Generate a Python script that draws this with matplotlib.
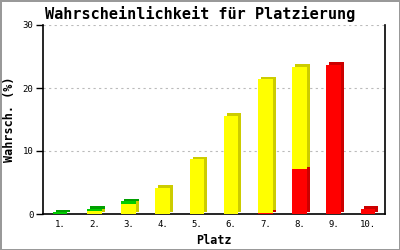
import matplotlib
matplotlib.use("Agg")
import matplotlib.pyplot as plt
import matplotlib.transforms as mtransforms
import numpy as np

platz = ["1.", "2.", "3.", "4.", "5.", "6.", "7.", "8.", "9.", "10."]
rot = [0.0, 0.0, 0.0, 0.0, 0.0, 0.0, 0.2, 7.1, 23.7, 0.8]
gelb = [0.0, 0.4, 1.6, 4.2, 8.7, 15.6, 21.2, 16.3, 0.0, 0.0]
gruen = [0.25, 0.4, 0.4, 0.0, 0.0, 0.0, 0.0, 0.0, 0.0, 0.0]

series = [
    (rot, "#ff0000", "#cc0000"),
    (gelb, "#ffff00", "#cccc00"),
    (gruen, "#00cc00", "#00a000"),
]

fig = plt.figure(figsize=(4, 2.5), dpi=100)
fig.patch.set_facecolor("white")
fig.patch.set_edgecolor("#999999")
fig.patch.set_linewidth(2)
ax = fig.add_axes([0.1075, 0.144, 0.855, 0.756])

x = np.arange(1, len(platz) + 1)
w = 0.43
# dark copy shifted right/up gives the 3D side and top faces
shift = ax.transData + mtransforms.ScaledTranslation(3 / 100, 2.5 / 100, fig.dpi_scale_trans)

bottom = np.zeros(len(platz))
for vals, col, dark in series:
    vals = np.array(vals)
    ax.bar(x, vals, w, bottom=bottom, color=dark, linewidth=0, transform=shift, zorder=2)
    bottom += vals

bottom = np.zeros(len(platz))
for vals, col, dark in series:
    vals = np.array(vals)
    ax.bar(x, vals, w, bottom=bottom, color=col, linewidth=0, zorder=3)
    bottom += vals

ax.set_xlim(0.5, 10.5)
ax.set_ylim(0, 30)
ax.set_yticks([0, 10, 20, 30])
ax.set_xticks(x)
ax.set_xticklabels(platz)
ax.yaxis.grid(True, color="#bbbbbb", linestyle=(0, (2, 3)), linewidth=0.8)
ax.set_axisbelow(True)
ax.spines["top"].set_visible(False)
for s in ["left", "bottom", "right"]:
    ax.spines[s].set_linewidth(1.2)
ax.tick_params(axis="x", length=0, pad=4, labelsize=6.5)
ax.tick_params(axis="y", length=5, width=1, pad=2, labelsize=6.5)
for lab in ax.get_xticklabels() + ax.get_yticklabels():
    lab.set_family("DejaVu Sans Mono")

fig.text(0.5, 0.945, "Wahrscheinlichkeit für Platzierung", family="DejaVu Sans Mono",
         fontweight="bold", fontsize=11, ha="center", va="center")
ax.set_xlabel("Platz", family="DejaVu Sans Mono", fontweight="bold", fontsize=8.5, labelpad=4)
ax.set_ylabel("Wahrsch. (%)", family="DejaVu Sans Mono", fontweight="bold", fontsize=8.5, labelpad=5)

fig.savefig("out.png", dpi=100, edgecolor=fig.get_edgecolor())
